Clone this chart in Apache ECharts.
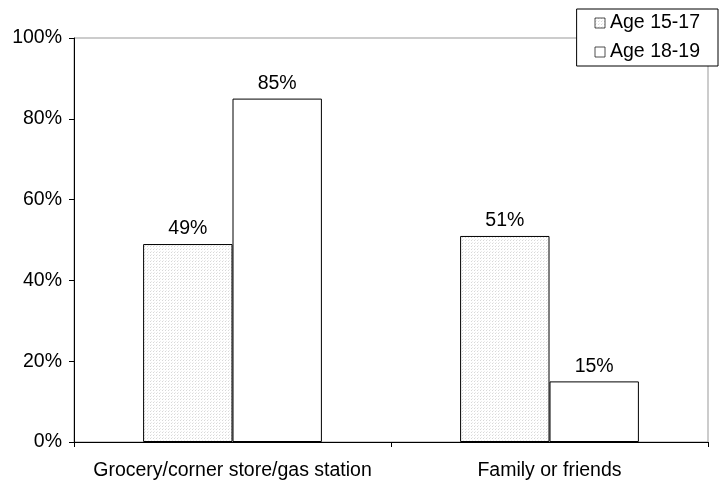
<!DOCTYPE html>
<html><head><meta charset="utf-8">
<script src="https://cdn.jsdelivr.net/npm/echarts@6/dist/echarts.min.js"></script>
<style>html,body{margin:0;padding:0;background:#fff}#c{width:723px;height:483px}</style>
</head><body><div id="c"></div>
<script>
const categories = ['Grocery/corner store/gas station', 'Family or friends'];
const seriesNames = ['Age 15-17', 'Age 18-19'];
const age1517 = [49, 51];
const age1819 = [85, 15];
const yTicks = [0, 20, 40, 60, 80, 100];

function makePattern() {
  const cv = document.createElement('canvas');
  cv.width = 3; cv.height = 3;
  const ctx = cv.getContext('2d');
  ctx.fillStyle = '#ffffff';
  ctx.fillRect(0, 0, 3, 3);
  ctx.fillStyle = '#d8d8d8';
  ctx.fillRect(0, 0, 1, 1);
  ctx.fillStyle = '#ebebeb';
  ctx.fillRect(1, 2, 1, 1);
  return cv;
}
const pattern = { image: makePattern(), repeat: 'repeat' };
const font = 'Liberation Sans, Arial, sans-serif';
const fs = 19.5;

const chart = echarts.init(document.getElementById('c'));
const lbl = { show: true, position: 'top', formatter: p => p.value + '%', color: '#000', fontSize: fs, fontFamily: font, distance: 5 };
chart.setOption({
  animation: false,
  grid: { left: 74, right: 15, top: 38, bottom: 41, show: true, borderColor: '#999', borderWidth: 1 },
  legend: {
    orient: 'vertical', right: 5, top: 9,
    data: seriesNames,
    icon: 'rect',
    itemWidth: 10, itemHeight: 10, itemGap: 9,
    itemStyle: { borderWidth: 0.8, borderColor: '#222' },
    borderColor: '#000', borderWidth: 1, backgroundColor: '#fff',
    padding: [4, 18, 4, 18],
    textStyle: { fontSize: fs, fontFamily: font, color: '#000' }
  },
  xAxis: {
    type: 'category', data: categories,
    axisLine: { lineStyle: { color: '#000' } },
    axisTick: { show: true, length: 5, lineStyle: { color: '#000' } },
    axisLabel: { color: '#000', fontSize: fs, fontFamily: font, margin: 19, interval: 0 }
  },
  yAxis: {
    type: 'value', min: 0, max: 100, interval: 20,
    axisLine: { show: true, lineStyle: { color: '#000' } },
    axisTick: { show: true, length: 5, lineStyle: { color: '#000' } },
    splitLine: { show: false },
    axisLabel: { color: '#000', fontSize: fs, fontFamily: font, margin: 12, formatter: v => yTicks.includes(v) ? v + '%' : '' }
  },
  series: [
    { name: seriesNames[0], type: 'bar', data: age1517, barWidth: '28.2%', barGap: '0%',
      itemStyle: { color: pattern, borderColor: '#000', borderWidth: 1 }, label: lbl },
    { name: seriesNames[1], type: 'bar', data: age1819, barWidth: '28.2%', barGap: '0%',
      itemStyle: { color: '#fff', borderColor: '#000', borderWidth: 1 }, label: lbl }
  ]
});
</script></body></html>
